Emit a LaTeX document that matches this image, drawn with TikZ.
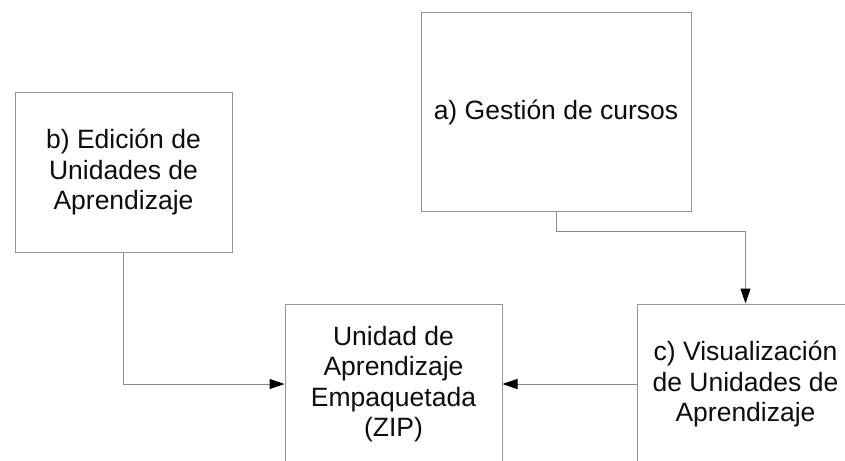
\documentclass[tikz,border=0pt]{standalone}
\usepackage{fontspec}
\setmainfont{Liberation Sans}
\usetikzlibrary{arrows.meta}
\begin{document}
\begin{tikzpicture}[x=1pt,y=-1pt,
  box/.style={draw=black!42, line width=1pt, fill=white, inner sep=0pt,
    align=center, text=black!95,
    font=\fontsize{26.5pt}{30.5pt}\selectfont},
  link/.style={draw=black!45, line width=1pt},
  arrowlink/.style={link, -{Triangle[length=15pt,width=10pt,black]}}]
  \useasboundingbox (0,0) rectangle (845,460);
  \clip (0,0) rectangle (845,460);
  \fill[white] (0,0) rectangle (845,460);

  % process boxes
  \node[box, minimum width=270pt, minimum height=198pt] (a) at (556,112)
    {a) Gestión de cursos};
  \node[box, minimum width=217pt, minimum height=160pt] (b) at (123.5,172)
    {b) Edición de\\Unidades de\\Aprendizaje};
  \node[box, minimum width=217pt, minimum height=160pt] (zip) at (393.5,384)
    {Unidad de\\Aprendizaje\\Empaquetada\\(ZIP)};
  \node[box, minimum width=217pt, minimum height=160pt] (c) at (745.5,384)
    {c) Visualización\\de Unidades de\\Aprendizaje};

  % connectors
  \draw[arrowlink] (a.south) -- ++(0,20) -| (c.north);
  \draw[arrowlink] (b.south) |- (zip.west);
  \draw[arrowlink] (c.west) -- (zip.east);
\end{tikzpicture}
\end{document}
